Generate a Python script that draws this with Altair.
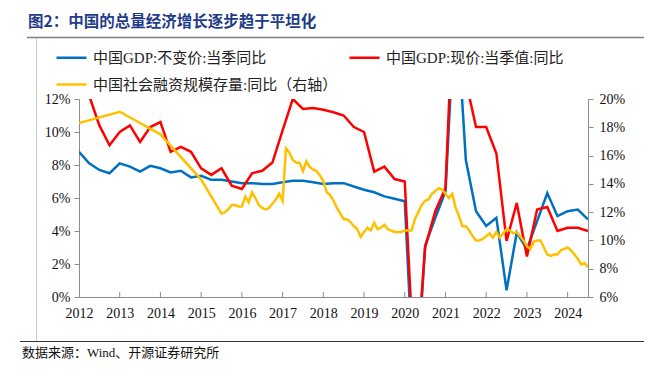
import altair as alt
import pandas as pd

# ---------------- data ----------------
S1 = "中国GDP:不变价:当季同比"
S2 = "中国GDP:现价:当季值:同比"
S3 = "中国社会融资规模存量:同比（右轴）"

quarters = ["2011Q4"] + [f"{y}Q{q}" for y in range(2012, 2024) for q in range(1, 5)] + ["2024Q1", "2024Q2"]

gdp_real = [8.8,
            8.1, 7.7, 7.5, 8.1,
            7.9, 7.6, 7.95, 7.8,
            7.55, 7.65, 7.25, 7.35,
            7.1, 7.1, 7.0, 6.9,
            6.9, 6.85, 6.85, 6.95,
            7.05, 7.05, 6.95, 6.85,
            6.9, 6.9, 6.7, 6.5,
            6.35, 6.1, 5.95, 5.8,
            -6.9, 3.1, 4.8, 6.4,
            18.3, 8.3, 5.2, 4.3,
            4.8, 0.4, 3.9, 2.9,
            4.6, 6.3, 4.9, 5.2,
            5.3, 4.7]

gdp_nominal = [17.5,
               12.2, 10.4, 9.2, 10.0,
               10.4, 9.4, 10.3, 10.6,
               8.8, 9.1, 8.8, 7.8,
               7.4, 7.8, 6.75, 6.55,
               7.5, 7.65, 8.15, 10.1,
               12.0, 11.4, 11.45, 11.35,
               11.2, 11.0, 10.3, 10.0,
               7.6, 7.9, 7.15, 7.0,
               -5.3, 3.0, 5.2, 6.6,
               21.2, 13.1, 10.3, 10.3,
               8.7, 3.4, 5.7, 2.45,
               5.3, 5.45, 4.0, 4.2,
               4.2, 4.0]

tsf_months = (["2011-12", "2012-12", "2013-12", "2014-12"]
              + [f"2015-{m:02d}" for m in range(6, 13)]
              + [f"{y}-{m:02d}" for y in range(2016, 2024) for m in range(1, 13)]
              + [f"2024-{m:02d}" for m in range(1, 7)])

tsf_growth = ([18.3, 19.1, 17.5, 14.3]
              + [11.9, 12.0, 12.2, 12.5, 12.5, 12.4, 12.4]
              + [13.1, 12.7, 13.4, 13.0, 12.5, 12.3, 12.2, 12.3, 12.6, 12.9, 13.3, 12.8]
              + [16.5, 16.2, 15.7, 15.5, 15.5, 14.9, 15.6, 15.2, 15.0, 14.9, 14.6, 14.2]
              + [13.4, 13.2, 12.8, 12.3, 11.9, 11.5, 11.5, 11.3, 11.0, 10.8, 10.25, 10.6]
              + [10.9, 10.7, 11.25, 10.8, 10.9, 11.1, 10.8, 10.7, 10.6, 10.6, 10.6, 10.7]
              + [10.7, 10.7, 11.5, 12.0, 12.5, 12.8, 12.9, 13.3, 13.5, 13.7, 13.6, 13.3]
              + [13.0, 13.3, 12.3, 11.7, 11.0, 11.0, 10.7, 10.3, 10.0, 10.0, 10.1, 10.3]
              + [10.5, 10.2, 10.6, 10.2, 10.5, 10.8, 10.7, 10.5, 10.6, 10.3, 10.0, 9.6]
              + [9.4, 9.9, 10.0, 10.0, 9.5, 9.0, 8.9, 9.0, 9.0, 9.3, 9.4, 9.5]
              + [9.3, 9.0, 8.7, 8.3, 8.4, 8.1])

year_ticks = list(range(2012, 2025))
left_ticks = [0, 2, 4, 6, 8, 10, 12]
right_ticks = [6, 8, 10, 12, 14, 16, 18, 20]

TITLE = "图2：中国的总量经济增长逐步趋于平坦化"
SOURCE = "数据来源：Wind、开源证券研究所"


def q_to_t(q):
    return int(q[:4]) + int(q[-1]) * 3 / 12


def m_to_t(m):
    return int(m[:4]) + int(m[5:]) / 12


qt = [q_to_t(q) for q in quarters]
gdp_df = pd.DataFrame({
    "t": qt + qt,
    "v": gdp_real + gdp_nominal,
    "s": [S1] * len(qt) + [S2] * len(qt),
})
tsf_df = pd.DataFrame({"t": [m_to_t(m) for m in tsf_months], "v": tsf_growth, "s": S3})
tick_df = pd.DataFrame({"t": year_ticks[1:]})

# ---------------- styles ----------------
W, H = 509, 198
SERIF = "Liberation Serif, Noto Sans CJK SC"
AXIS_GRAY = "#8c8c8c"

# legend grid fills column by column: S1, S3 in column 1, S2 in column 2
color = alt.Color(
    "s:N",
    scale=alt.Scale(domain=[S1, S3, S2], range=["#0070C0", "#FFC000", "#FF0000"]),
    legend=alt.Legend(
        title=None, orient="none", legendX=-24, legendY=-58, columns=2,
        symbolType="stroke", symbolSize=900, symbolStrokeWidth=2.5,
        labelFont=SERIF, labelFontSize=15, labelColor="#222222", labelLimit=400,
        labelOffset=5, columnPadding=6, rowPadding=2, padding=0,
    ),
)

x = alt.X(
    "t:Q",
    scale=alt.Scale(domain=[2012, 2024.5], nice=False, zero=False),
    axis=alt.Axis(
        values=year_ticks, format="d", ticks=False, grid=False, title=None,
        labelFont="Liberation Serif", labelFontSize=14, labelColor="#111111",
        labelPadding=9, labelFlush=False, labelOverlap=False, labelBound=False,
        domainColor=AXIS_GRAY, domainWidth=1,
    ),
)

left = alt.Chart(gdp_df).mark_line(clip=True, strokeWidth=2.5).encode(
    x=x,
    y=alt.Y(
        "v:Q",
        scale=alt.Scale(domain=[0, 12], nice=False, zero=False),
        axis=alt.Axis(
            values=left_ticks, labelExpr="datum.value + '%'", grid=False, title=None,
            tickSize=5, tickColor=AXIS_GRAY, domainColor=AXIS_GRAY,
            labelFont="Liberation Serif", labelFontSize=14, labelColor="#111111",
            labelPadding=4,
        ),
    ),
    color=color,
    order=alt.Order("t:Q"),
)

right = alt.Chart(tsf_df).mark_line(clip=True, strokeWidth=2.5).encode(
    x=x,
    y=alt.Y(
        "v:Q",
        scale=alt.Scale(domain=[6, 20], nice=False, zero=False),
        axis=alt.Axis(
            orient="right", values=right_ticks, labelExpr="datum.value + '%'",
            grid=False, title=None, tickSize=5, tickColor=AXIS_GRAY,
            domainColor=AXIS_GRAY, labelFont="Liberation Serif", labelFontSize=14,
            labelColor="#111111", labelPadding=6,
        ),
    ),
    color=color,
    order=alt.Order("t:Q"),
)

xticks = alt.Chart(tick_df).mark_rule(color=AXIS_GRAY, strokeWidth=1).encode(
    x=alt.X("t:Q", scale=alt.Scale(domain=[2012, 2024.5], nice=False, zero=False)),
    y=alt.value(H - 5), y2=alt.value(H),
)

one = pd.DataFrame({"a": [0]})

title_txt = alt.Chart(pd.DataFrame({"txt": [TITLE]})).mark_text(
    font="Noto Sans CJK SC", fontSize=15.5, fontWeight="bold", color="#1F3C88",
    align="left", baseline="alphabetic",
).encode(x=alt.value(-51), y=alt.value(-72.5), text="txt:N")

top_line = alt.Chart(one).mark_rule(color="#808080", strokeWidth=1.5).encode(
    x=alt.value(-52), x2=alt.value(571), y=alt.value(-61.5))
left_border = alt.Chart(one).mark_rule(color="#c8c8c8", strokeWidth=1).encode(
    x=alt.value(-42.5), y=alt.value(-61), y2=alt.value(242))
bottom_line = alt.Chart(one).mark_rule(color="#333333", strokeWidth=1).encode(
    x=alt.value(-59), x2=alt.value(571), y=alt.value(242.5))

source_txt = alt.Chart(pd.DataFrame({"txt": [SOURCE]})).mark_text(
    font=SERIF, fontSize=13, color="#111111", align="left", baseline="middle",
).encode(x=alt.value(-57), y=alt.value(254), text="txt:N")

chart = alt.layer(
    left, right, xticks, title_txt, top_line, left_border, bottom_line, source_txt
).resolve_scale(y="independent").properties(
    width=W, height=H, autosize="none",
    padding={"left": 71, "top": 91, "right": 56, "bottom": 64},
).configure_view(stroke=None)

chart.save("out.html", embed_options={"renderer": "svg", "actions": False})
